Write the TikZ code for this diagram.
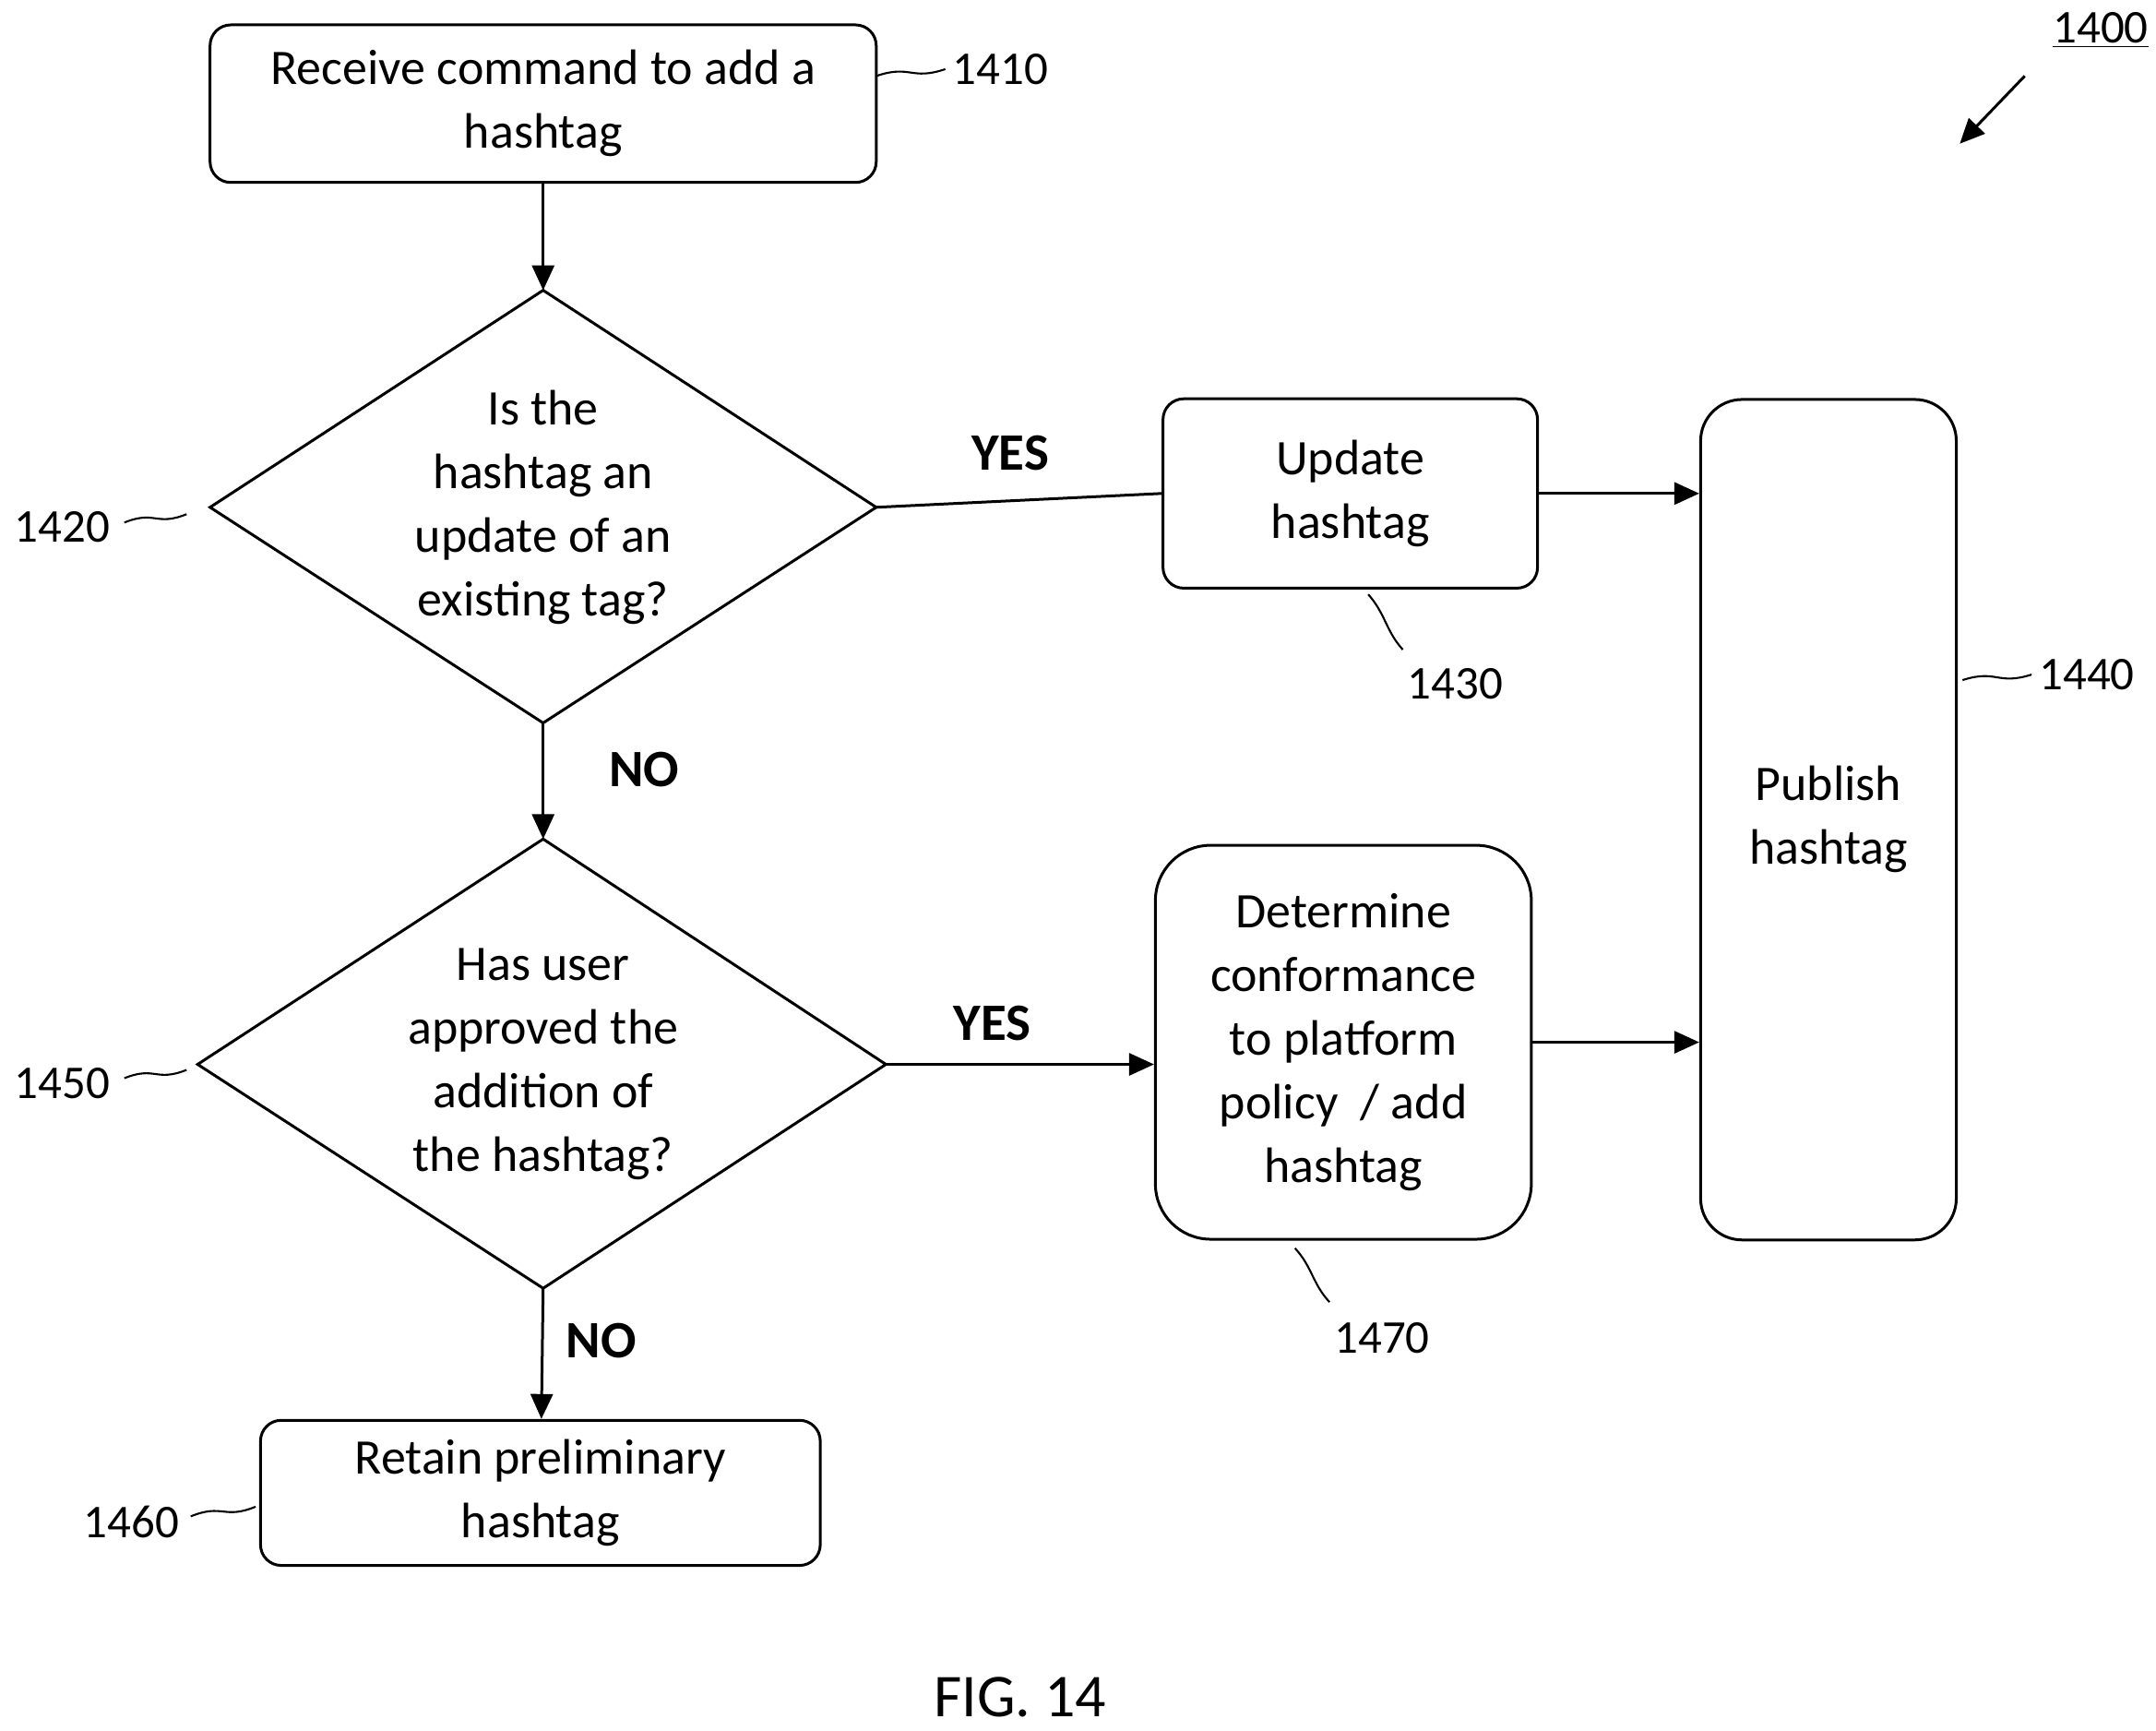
\documentclass[tikz,border=0pt]{standalone}
\usepackage{fontspec}
\setmainfont{Carlito}
\usetikzlibrary{arrows.meta,calc}
\tikzset{
  box/.style={draw, line width=1pt, rounded corners=7.5pt, align=center,
    inner sep=0pt, font=\fontsize{18}{23}\selectfont},
  txt/.style={align=center, inner sep=0pt, font=\fontsize{18}{23}\selectfont},
  refnum/.style={inner sep=0pt, font=\fontsize{17}{20}\selectfont},
  answer/.style={inner sep=0pt, font=\fontsize{19}{22}\selectfont\bfseries},
  flow/.style={line width=1pt, -{Triangle[length=9pt,width=8pt]}},
  plain/.style={line width=1pt},
  squig/.style={line width=0.7pt}
}
\newcommand\refwave[2]{\draw[squig] (#1) .. controls ($(#1)!0.5!(#2)+(0,-6)$) and ($(#1)!0.5!(#2)+(0,6)$) .. (#2);}
\begin{document}
\begin{tikzpicture}[x=0.5pt,y=-0.5pt]
\useasboundingbox (0,0) rectangle (1560,1252);
% Boxes
\node[box, minimum width=241pt, minimum height=57pt] (add) at (393,75) {Receive command to add a\\hashtag};
\node[box, minimum width=135.5pt, minimum height=68.5pt] (update) at (977,357) {Update\\hashtag};
\node[box, minimum width=92.5pt, minimum height=304pt, rounded corners=15pt] (publish) at (1323,593) {Publish\\hashtag};
\node[box, minimum width=136pt, minimum height=142.5pt, rounded corners=20pt] (conform) at (972,754) {Determine\\conformance\\to platform\\policy\ \ / add\\hashtag};
\node[box, minimum width=202.5pt, minimum height=52.5pt] (retain) at (391,1080) {Retain preliminary\\hashtag};
% Decisions
\coordinate (upN) at (393,210); \coordinate (upE) at (634,367);
\coordinate (upS) at (393,523); \coordinate (upW) at (152,367);
\draw[plain] (upN) -- (upE) -- (upS) -- (upW) -- cycle;
\node[txt] (upq) at (393,367) {Is the\\hashtag an\\update of an\\existing tag?};
\coordinate (okN) at (393,607); \coordinate (okE) at (641,770);
\coordinate (okS) at (393,932); \coordinate (okW) at (143,770);
\draw[plain] (okN) -- (okE) -- (okS) -- (okW) -- cycle;
\node[txt] (okq) at (393,770) {Has user\\approved the\\addition of\\the hashtag?};
% Connectors
\draw[flow] (add) -- (upN);
\draw[plain] (upE) -- (update.west);
\draw[flow] (update.east) -- (update.east -| publish.west);
\draw[flow] (upS) -- (okN);
\draw[flow] (okE) -- (okE -| conform.west);
\draw[flow] (conform.east) -- (conform.east -| publish.west);
\draw[flow] (okS) -- (retain);
\node[answer] (yes1) at (731,328) {YES};
\node[answer] (no1) at (466,557) {NO};
\node[answer] (yes2) at (718,740) {YES};
\node[answer] (no2) at (435,970) {NO};
% Reference numerals
\node[refnum] (n1410) at (724,50) {1410};
\refwave{634,55}{684,50}
\node[refnum] (n1420) at (45,381) {1420};
\refwave{90,378}{135,372}
\node[refnum] (n1430) at (1053,495) {1430};
\refwave{990,430}{1015,470}
\node[refnum] (n1440) at (1510,488) {1440};
\refwave{1420,492}{1470,488}
\node[refnum] (n1450) at (45,784) {1450};
\refwave{90,780}{135,774}
\node[refnum] (n1460) at (95,1101) {1460};
\refwave{138,1097}{185,1090}
\node[refnum] (n1470) at (1000,968) {1470};
\refwave{937,903}{962,942}
\node[refnum] (n1400) at (1520,22) {\underline{1400}};
\coordinate (ptr) at (1465,55);
\draw[flow] (ptr) -- (1418,104);
\node[txt, font=\fontsize{22}{26}\selectfont] (fig) at (738,1228) {FIG. 14};
\end{tikzpicture}
\end{document}
